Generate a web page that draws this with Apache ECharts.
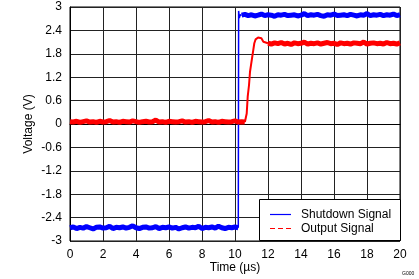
<!DOCTYPE html>
<html><head><meta charset="utf-8">
<script src="https://cdn.jsdelivr.net/npm/echarts@6/dist/echarts.min.js"></script>
<style>html,body{margin:0;padding:0;background:#fff}#c{width:419px;height:279px}</style>
</head><body><div id="c"></div>
<script>
// ---- data (time in µs, voltage in V) ----
const xTicks = [0, 2, 4, 6, 8, 10, 12, 14, 16, 18, 20];
const yTicks = [-3, -2.4, -1.8, -1.2, -0.6, 0, 0.6, 1.2, 1.8, 2.4, 3];
const sampleStep = 0.2;

// Shutdown signal: low part sampled from 0 µs
const blueLowStart = 0;
const blueLowV = [-2.66,-2.64,-2.68,-2.65,-2.67,-2.63,-2.66,-2.69,-2.65,-2.64,
 -2.67,-2.66,-2.62,-2.68,-2.65,-2.66,-2.64,-2.67,-2.65,-2.61,
 -2.66,-2.68,-2.65,-2.64,-2.67,-2.66,-2.63,-2.68,-2.65,-2.66,
 -2.64,-2.67,-2.65,-2.69,-2.66,-2.64,-2.67,-2.65,-2.66,-2.62,
 -2.68,-2.65,-2.66,-2.64,-2.67,-2.62,-2.66,-2.68,-2.65,-2.66,
 -2.64,-2.66];
// Shutdown signal edge
const blueEdgeT = [10.2, 10.22, 10.26, 10.32, 10.4];
const blueEdgeV = [-2.66, 2.90, 2.72, 2.80, 2.79];
// Shutdown signal high part sampled from 10.4 µs
const blueHighStart = 10.4;
const blueHighV = [2.79,2.81,2.78,2.80,2.77,2.79,2.82,2.78,2.80,2.79,
 2.76,2.80,2.79,2.81,2.78,2.79,2.80,2.77,2.79,2.83,
 2.78,2.80,2.79,2.81,2.78,2.76,2.80,2.79,2.82,2.78,
 2.79,2.80,2.78,2.81,2.79,2.77,2.80,2.79,2.83,2.78,
 2.80,2.79,2.81,2.78,2.80,2.79,2.82,2.78,2.80];

// Output signal: low part sampled from 0 µs
const redLowStart = 0;
const redLowV = [0.06,0.05,0.07,0.04,0.06,0.08,0.05,0.06,0.04,0.07,
 0.05,0.06,0.09,0.05,0.06,0.04,0.07,0.06,0.05,0.08,
 0.06,0.04,0.06,0.07,0.05,0.06,0.10,0.05,0.06,0.04,
 0.07,0.06,0.05,0.06,0.08,0.05,0.06,0.04,0.07,0.06,
 0.05,0.06,0.09,0.05,0.06,0.04,0.07,0.06,0.05,0.06,
 0.08,0.05,0.06,0.05];
// Output signal rise
const redRiseT = [10.6,10.65,10.71,10.77,10.85,10.91,10.97,11.03,11.11,11.17,11.25,11.4,11.6,11.72,11.8,12.0];
const redRiseV = [0.05,0.10,0.27,0.70,1.00,1.34,1.51,1.68,1.90,2.07,2.17,2.22,2.20,2.11,2.07,2.07];
// Output signal high part sampled from 12 µs
const redHighStart = 12.0;
const redHighV = [2.07,2.05,2.08,2.06,2.09,2.05,2.07,2.04,2.08,2.06,
 2.07,2.10,2.05,2.07,2.06,2.08,2.05,2.07,2.09,2.06,
 2.07,2.04,2.08,2.06,2.07,2.05,2.08,2.07,2.06,2.10,
 2.05,2.07,2.08,2.06,2.07,2.05,2.09,2.06,2.07,2.05,
 2.08];

const legendNames = ['Shutdown Signal', 'Output Signal'];

// ---- build ----
function sampled(start, vals) { return vals.map((v, i) => [+(start + i * sampleStep).toFixed(3), v]); }
function paired(ts, vs) { return ts.map((t, i) => [t, vs[i]]); }

const FONT = 'Liberation Sans';
const BLUE = '#0000ff', RED = '#ff0000';
function ln(data, color, width) {
  return { type: 'line', data: data, symbol: 'none', silent: true, animation: false,
           lineStyle: { color: color, width: width }, z: 2 };
}
const chart = echarts.init(document.getElementById('c'), null, { renderer: 'canvas' });
chart.setOption({
  animation: false,
  backgroundColor: '#fff',
  grid: { left: 70, right: 19, top: 7, bottom: 38, show: true, borderColor: '#000', borderWidth: 1 },
  xAxis: {
    type: 'value', min: xTicks[0], max: xTicks[xTicks.length - 1], interval: 2,
    name: 'Time (µs)', nameLocation: 'middle', nameGap: 21, nameMoveOverlap: false,
    nameTextStyle: { fontFamily: FONT, fontSize: 12, color: '#000' },
    axisLine: { lineStyle: { color: '#000', width: 1 } },
    axisTick: { show: false },
    axisLabel: { fontFamily: FONT, fontSize: 12, color: '#000', margin: 8 },
    splitLine: { show: true, lineStyle: { color: '#222', width: 1 } }
  },
  yAxis: {
    type: 'value', min: yTicks[0], max: yTicks[yTicks.length - 1], interval: 0.6,
    name: 'Voltage (V)', nameLocation: 'middle', nameGap: 35, nameMoveOverlap: false,
    nameTextStyle: { fontFamily: FONT, fontSize: 12, color: '#000' },
    axisLine: { show: true, lineStyle: { color: '#000', width: 1 } },
    axisTick: { show: false },
    axisLabel: { fontFamily: FONT, fontSize: 12, color: '#000', margin: 8,
      formatter: v => { const t = yTicks.find(k => Math.abs(k - v) < 1e-6); return String(t === undefined ? v : t); } },
    splitLine: { show: true, lineStyle: { color: '#222', width: 1 } }
  },
  graphic: [
    { type: 'rect', z: 100, shape: { x: 259.5, y: 199.5, width: 141, height: 41 },
      style: { fill: '#fff', stroke: '#000', lineWidth: 1 } },
    { type: 'line', z: 101, shape: { x1: 270, y1: 214.5, x2: 291, y2: 214.5 },
      style: { stroke: BLUE, lineWidth: 1.2 } },
    { type: 'line', z: 101, shape: { x1: 270, y1: 228.5, x2: 291, y2: 228.5 },
      style: { stroke: RED, lineWidth: 1, lineDash: [5, 3] } },
    { type: 'text', z: 101, x: 301, y: 215, style: { text: legendNames[0], fontFamily: FONT, fontSize: 12, fill: '#000', verticalAlign: 'middle' } },
    { type: 'text', z: 101, x: 301, y: 229, style: { text: legendNames[1], fontFamily: FONT, fontSize: 12, fill: '#000', verticalAlign: 'middle' } },
    { type: 'text', z: 101, x: 402, y: 271, style: { text: 'G000', fontSize: 5, fontFamily: FONT, fill: '#000' } }
  ],
  series: [
    ln(sampled(blueLowStart, blueLowV), BLUE, 5),
    ln(paired(blueEdgeT, blueEdgeV), BLUE, 1.5),
    ln(sampled(blueHighStart, blueHighV), BLUE, 5),
    ln(sampled(redLowStart, redLowV), RED, 5),
    ln(paired(redRiseT, redRiseV), RED, 2),
    ln(sampled(redHighStart, redHighV), RED, 5)
  ]
});
</script></body></html>
